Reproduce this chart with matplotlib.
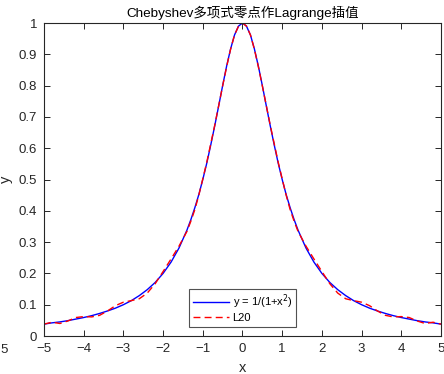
import matplotlib
matplotlib.use("Agg")
import matplotlib.pyplot as plt
import numpy as np

plt.rcParams['font.family'] = ['Liberation Sans', 'Noto Sans CJK SC', 'DejaVu Sans']

# x positions (right half, mirrored to the left)
x_half = [0.0, 0.1, 0.2, 0.3, 0.4, 0.5, 0.6, 0.7, 0.8, 0.9, 1.0, 1.1, 1.2, 1.3,
          1.4, 1.6, 1.8, 2.0, 2.2, 2.4, 2.6, 2.8, 3.0, 3.2, 3.4, 3.6, 3.8,
          4.0, 4.2, 4.4, 4.6, 4.8, 5.0]
y_true_half = [1.000, 0.990, 0.962, 0.917, 0.862, 0.800, 0.735, 0.671, 0.610,
               0.552, 0.500, 0.452, 0.410, 0.372, 0.338, 0.281,
               0.236, 0.200, 0.171, 0.148, 0.129, 0.113, 0.100, 0.089, 0.080,
               0.072, 0.065, 0.059, 0.054, 0.049, 0.045, 0.042, 0.038]
y_l20_half = [1.000, 0.990, 0.962, 0.916, 0.860, 0.799, 0.736, 0.673, 0.614,
              0.555, 0.502, 0.450, 0.404, 0.367, 0.334, 0.287,
              0.246, 0.206, 0.167, 0.137, 0.119, 0.113, 0.108, 0.097, 0.080,
              0.066, 0.061, 0.062, 0.059, 0.048, 0.040, 0.044, 0.038]

x = [-v for v in x_half[:0:-1]] + x_half
y_true = y_true_half[:0:-1] + y_true_half
y_l20 = y_l20_half[:0:-1] + y_l20_half

xticks = [-5, -4, -3, -2, -1, 0, 1, 2, 3, 4, 5]
yticks = [0, 0.1, 0.2, 0.3, 0.4, 0.5, 0.6, 0.7, 0.8, 0.9, 1]
ytick_labels = ['0', '0.1', '0.2', '0.3', '0.4', '0.5', '0.6', '0.7', '0.8', '0.9', '1']

fig = plt.figure(figsize=(4.44, 3.74), dpi=100)
ax = fig.add_axes([0.0991, 0.1016, 0.8941, 0.8369])

ax.plot(x, y_true, color='#0000ff', lw=1.0, label='y = 1/(1+x$^2$)')
ax.plot(x, y_l20, color='#ff0000', lw=1.0, ls=(0, (5, 3)), label='L20')

ax.set_xlim(-5, 5)
ax.set_ylim(0, 1)
ax.set_xticks(xticks)
ax.set_yticks(yticks)
ax.set_yticklabels(ytick_labels)
ax.tick_params(direction='in', top=True, right=True, length=4, width=0.7,
               labelsize=9.5, colors='#262626', pad=5)
for s in ax.spines.values():
    s.set_linewidth(0.8)
    s.set_color('#262626')

ax.set_xlabel('x', fontsize=10.5, color='#262626', labelpad=4)
ax.set_ylabel('y', fontsize=10.5, color='#262626', labelpad=4)
ax.set_title('Chebyshev多项式零点作Lagrange插值', fontsize=9.7, color='#000000', pad=4)

leg = ax.legend(loc='lower center', bbox_to_anchor=(0.5, 0.03), fontsize=8,
                frameon=True, fancybox=False, edgecolor='#262626',
                handlelength=3.3, handletextpad=0.3, borderpad=0.3,
                labelspacing=0.2, borderaxespad=0)
leg.get_frame().set_linewidth(0.8)

fig.text(0.0, 0.065, '5', fontsize=9.5, color='#262626', ha='left', va='center')

fig.savefig('out.png', dpi=100)
